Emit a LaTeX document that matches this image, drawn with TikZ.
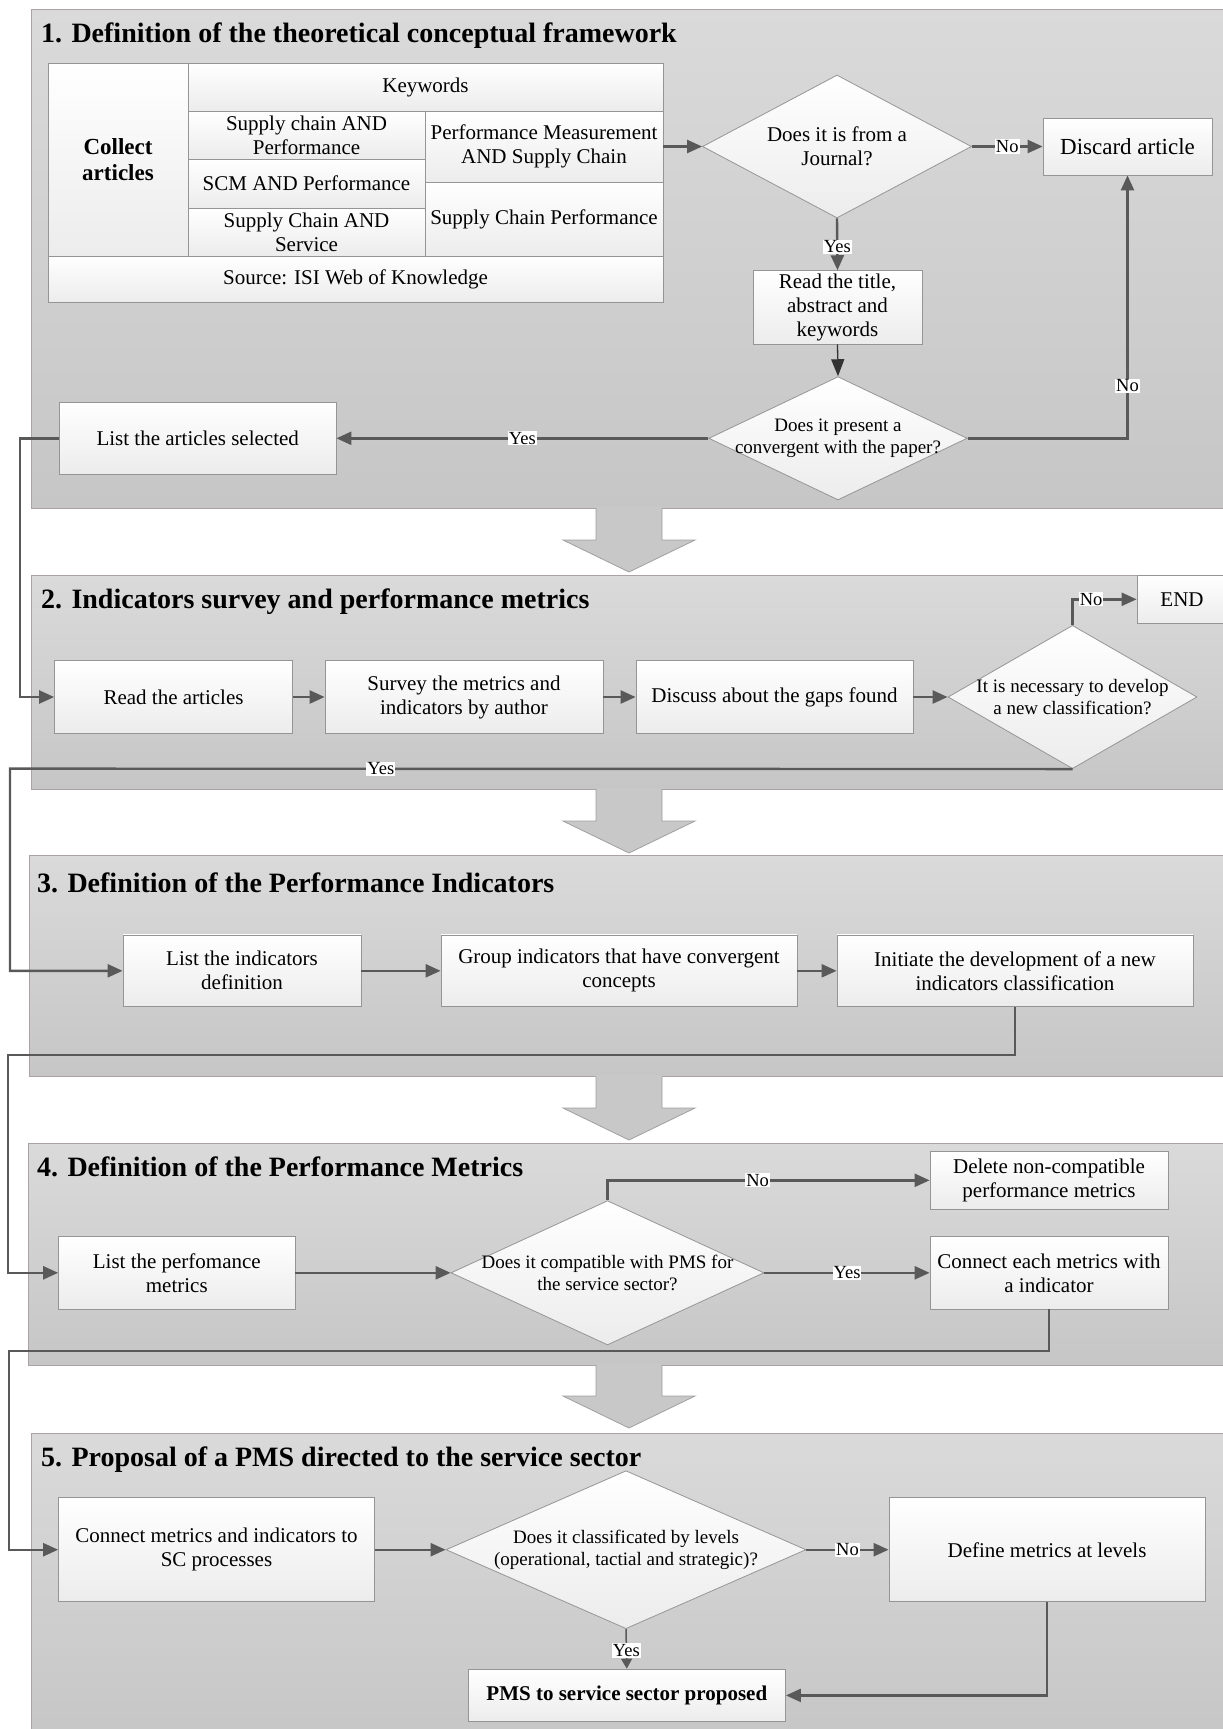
\documentclass[tikz,border=0pt]{standalone}
\usepackage{fontspec}
\setmainfont{Liberation Serif}
\usetikzlibrary{shapes.geometric, arrows.meta}
\definecolor{panelA}{HTML}{DADADA}
\definecolor{panelB}{HTML}{C6C6C6}
\definecolor{panelLine}{HTML}{ABA3A3}
\definecolor{boxLine}{HTML}{959595}
\definecolor{boxBot}{HTML}{ECECEC}
\definecolor{connCol}{HTML}{595959}
\definecolor{bigFill}{HTML}{C8C8C8}
\definecolor{bigLine}{HTML}{A0A0A0}
\newcommand\fsBody{\fontsize{21}{24}\selectfont}
\newcommand\fsBig{\fontsize{23}{26}\selectfont}
\newcommand\fsDia{\fontsize{19}{21.5}\selectfont}
\newcommand\fsLab{\fontsize{18.5}{20}\selectfont}
\newcommand\fsTitle{\fontsize{28}{32}\selectfont\bfseries}
\begin{document}
\begin{tikzpicture}[x=1pt, y=-1pt,
  panel/.style={draw=panelLine, line width=0.8pt, top color=panelA, bottom color=panelB},
  ttl/.style={anchor=base west, inner sep=0pt, font=\fsTitle},
  box/.style={draw=boxLine, line width=0.8pt, top color=white, bottom color=boxBot, align=center, inner sep=0pt, font=\fsBody},
  dia/.style={diamond, draw=boxLine, line width=0.8pt, top color=white, bottom color=boxBot, inner sep=0pt},
  dtext/.style={align=center, inner sep=0pt, font=\fsDia},
  conn/.style={draw=connCol, line width=2.4pt, -{Triangle[length=15pt, width=13pt]}},
  connblack/.style={draw=black!80, line width=1.3pt, -{Triangle[length=17pt, width=13pt]}},
  connthin/.style={draw=connCol, line width=1.5pt, -{Triangle[length=10pt, width=11pt]}},
  lab/.style={fill=white, inner sep=1pt, font=\fsLab, text=black},
  bigfill/.style={fill=bigFill},
  bigline/.style={draw=bigLine, line width=0.8pt},
]
\path[use as bounding box] (0,0) rectangle (1223,1729);
\clip (0,0) rectangle (1223,1729);
\fill[white] (0,0) rectangle (1223,1729);

% panels
\path[panel] (31,9.3) rectangle (1228,508.3);
\path[panel] (31,575) rectangle (1228,789.3);
\path[panel] (29,855) rectangle (1228,1076.7);
\path[panel] (28,1143.3) rectangle (1228,1365);
\path[panel] (31,1433.3) rectangle (1228,1740);

% big arrows between panels
\foreach \ya/\yb/\yc in {506.5/540/572, 787.5/821/853, 1075/1108/1140, 1363.3/1396/1428}{
  \fill[bigfill] (596,\ya) -- (596,\yb) -- (563,\yb) -- (629,\yc) -- (695,\yb) -- (662,\yb) -- (662,\ya) -- cycle;
  \draw[bigline] (596,\ya+1.5) -- (596,\yb) -- (563,\yb) -- (629,\yc) -- (695,\yb) -- (662,\yb) -- (662,\ya+1.5);
}

% titles
\node[ttl] (t1) at (41,42.8) {1. Definition of the theoretical conceptual framework};
\node[ttl] (t2) at (41,608.5) {2. Indicators survey and performance metrics};
\node[ttl] (t3) at (37,892) {3. Definition of the Performance Indicators};
\node[ttl] (t4) at (37,1176.8) {4. Definition of the Performance Metrics};
\node[ttl] (t5) at (41,1466.8) {5. Proposal of a PMS directed to the service sector};

% ---------- section 1 ----------
\node[box, minimum width=140pt, minimum height=193pt, font=\fsBig\bfseries] (collect) at (118,159.5) {Collect\\articles};
\node[box, minimum width=475pt, minimum height=48pt] (kw) at (425.5,87) {Keywords};
\node[box, minimum width=237pt, minimum height=48pt] (sc1) at (306.5,135) {Supply chain AND\\Performance};
\node[box, minimum width=237pt, minimum height=49pt] (sc2) at (306.5,183.5) {SCM AND Performance};
\node[box, minimum width=237pt, minimum height=48pt] (sc3) at (306.5,232) {Supply Chain AND\\Service};
\node[box, minimum width=238pt, minimum height=71pt] (pm) at (544,146.5) {Performance Measurement\\AND Supply Chain};
\node[box, minimum width=238pt, minimum height=74pt] (scp) at (544,219) {Supply Chain Performance};
\node[box, minimum width=615pt, minimum height=46pt] (src) at (355.5,279) {Source: ISI Web of Knowledge};

\node[dia, minimum width=269pt, minimum height=143pt] (d1) at (837,146.5) {};
\node[dtext, font=\fsBody] (d1t) at (d1.center) {Does it is from a\\Journal?};
\node[box, minimum width=169pt, minimum height=57pt, font=\fsBig] (disc) at (1127.5,146.5) {Discard article};
\node[box, minimum width=169pt, minimum height=73.3pt] (rt) at (837.5,307.3) {Read the title,\\abstract and\\keywords};
\node[dia, minimum width=258.5pt, minimum height=123.3pt] (d2) at (838,438.3) {};
\node[dtext] (d2t) at (d2.center) {Does it present a\\convergent with the paper?};
\node[box, minimum width=276.6pt, minimum height=72pt] (lst) at (197.7,438.3) {List the articles selected};

% ---------- section 2 ----------
\node[box, minimum width=238pt, minimum height=72.6pt] (read) at (173.5,697) {Read the articles};
\node[box, minimum width=278pt, minimum height=72.6pt] (surv) at (464,697) {Survey the metrics and\\indicators by author};
\node[box, minimum width=277pt, minimum height=72.6pt] (gaps) at (774.5,697) {Discuss about the gaps found};
\node[dia, minimum width=249pt, minimum height=143.3pt] (d3) at (1072.5,697) {};
\node[dtext] (d3t) at (d3.center) {It is necessary to develop\\a new classification?};
\node[box, minimum width=90pt, minimum height=48pt] (endb) at (1182,599.3) {END};

% ---------- section 3 ----------
\node[box, minimum width=238pt, minimum height=71.7pt] (li) at (242,970.8) {List the indicators\\definition};
\node[box, minimum width=356pt, minimum height=71.7pt] (grp) at (619,970.8) {Group indicators that have convergent\\concepts};
\node[box, minimum width=356pt, minimum height=71.7pt] (ini) at (1015,970.8) {Initiate the development of a new\\indicators classification};

% ---------- section 4 ----------
\node[box, minimum width=238pt, minimum height=57.3pt] (del) at (1049,1180.3) {Delete non-compatible\\performance metrics};
\node[box, minimum width=236.5pt, minimum height=72.3pt] (lpm) at (176.8,1272.8) {List the perfomance\\metrics};
\node[dia, minimum width=313pt, minimum height=144.3pt] (d4) at (607.5,1272.8) {};
\node[dtext] (d4t) at (d4.center) {Does it compatible with PMS for\\the service sector?};
\node[box, minimum width=238pt, minimum height=72.3pt] (cnx) at (1049,1272.8) {Connect each metrics with\\a indicator};

% ---------- section 5 ----------
\node[box, minimum width=316pt, minimum height=104pt] (cm) at (216.5,1549.7) {Connect metrics and indicators to\\SC processes};
\node[dia, minimum width=360pt, minimum height=158pt] (d5) at (626,1549.7) {};
\node[dtext] (d5t) at (d5.center) {Does it classificated by levels\\(operational, tactial and strategic)?};
\node[box, minimum width=316pt, minimum height=104pt] (dm) at (1047,1549.7) {Define metrics at levels};
\node[box, minimum width=317.5pt, minimum height=52.7pt, font=\fsBody\bfseries] (pms) at (626.8,1695.4) {PMS to service sector proposed};

% free-end coordinates of the long left connectors
\coordinate (T1) at (20,438.3);
\coordinate (T2) at (10,768.65);
\coordinate (T3) at (8,1055);
\coordinate (T4) at (9,1351);

% ---------- connectors ----------
\draw[conn] (pm.east) -- (d1.west);
\draw[conn] (d1.east) -- node[lab]{No} (disc.west);
\draw[conn] (d1.south) -- node[lab, pos=0.55]{Yes} (rt.north);
\draw[connblack] (rt.south) -- (d2.north);
\draw[conn] (d2.east) -| node[lab, pos=0.6]{No} (disc.south);
\draw[conn] (d2.west) -- node[lab]{Yes} (lst.east);
\draw[conn] (lst.west) -- (T1) |- (read.west);

\draw[conn] (read.east) -- (surv.west);
\draw[conn] (surv.east) -- (gaps.west);
\draw[conn] (gaps.east) -- (d3.west);
\draw[conn] (d3.north) |- node[lab, pos=0.645]{No} (endb.west);
\draw[conn] (d3.south) -- node[lab, pos=0.651]{Yes} (T2) |- (li.west);

\draw[conn] (li.east) -- (grp.west);
\draw[conn] (grp.east) -- (ini.west);
\draw[conn] (ini.south) |- (T3) |- (lpm.west);

\draw[conn] (lpm.east) -- (d4.west);
\draw[conn] (d4.north) |- node[lab, pos=0.733]{No} (del.west);
\draw[conn] (d4.east) -- node[lab]{Yes} (cnx.west);
\draw[conn] (cnx.south) |- (T4) |- (cm.west);

\draw[conn] (cm.east) -- (d5.west);
\draw[conn] (d5.east) -- node[lab]{No} (dm.west);
\draw[connthin] (d5.south) -- node[lab, pos=0.54]{Yes} (pms.north);
\draw[conn] (dm.south) |- (pms.east);
\end{tikzpicture}
\end{document}
